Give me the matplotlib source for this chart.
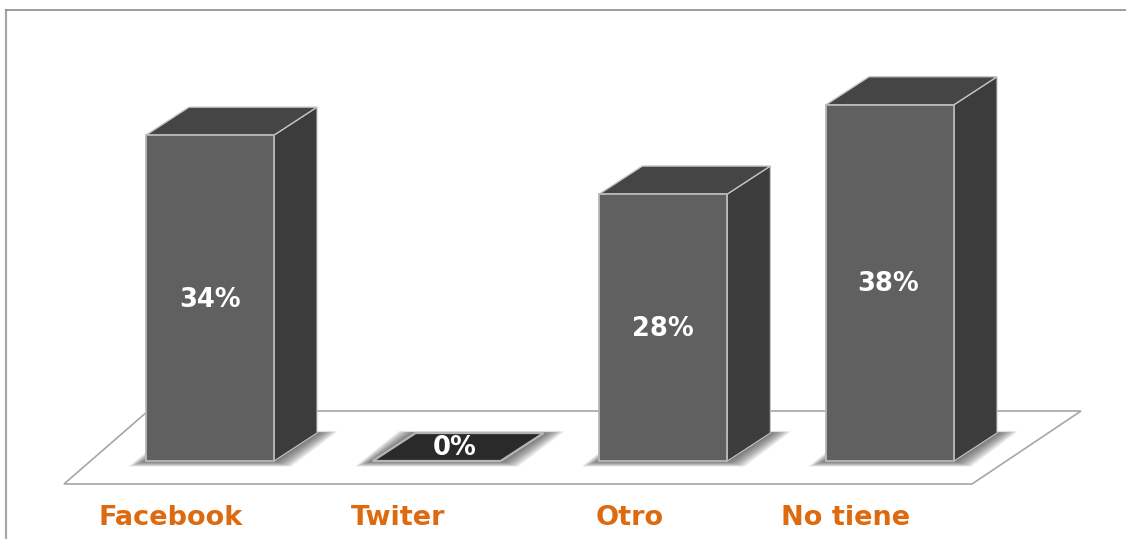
import matplotlib
matplotlib.use('Agg')
import matplotlib.pyplot as plt
from matplotlib.patches import Polygon

# Data
categories = ['Facebook', 'Twiter', 'Otro', 'No tiene']
heights = [34.3, 0, 28.1, 37.5]
value_labels = ['34%', '0%', '28%', '38%']

# Scale: pixels per bar step and per percent point
px_x = 226.67
px_y = 9.5
width = 128 / px_x
dx = 43 / px_x
dy = 28 / px_y

fig = plt.figure(figsize=(11.26, 5.39), dpi=100)
ax = fig.add_axes([0, 0, 1, 1])
ax.set_xlim(-210 / px_x, (1126 - 210) / px_x)
ax.set_ylim(-78 / px_y, 461 / px_y)
ax.axis('off')

# outer frame
frame_col = '#8c8c8c'
ax.plot([-204 / px_x, -204 / px_x], [-78 / px_y, 451 / px_y], color='#a8a8a8', lw=1.6)
ax.plot([-204 / px_x, 916 / px_x], [451 / px_y, 451 / px_y], color=frame_col, lw=1.2)

# floor
floor = [(-146 / px_x, -23 / px_y), (762 / px_x, -23 / px_y),
         (871 / px_x, 50 / px_y), (-62 / px_x, 50 / px_y)]
ax.add_patch(Polygon(floor, closed=True, fc='white', ec='#a6a6a6', lw=1.2, zorder=1))


def shadow(x, w):
    # soft shadow on the floor, built from stacked see-through shapes
    for g in range(16, 0, -1):
        s = g * 1.1 / px_x
        t = g * 0.35 / px_y
        pts = [(x - w / 2 - s, -t), (x + w / 2 + s, -t),
               (x + w / 2 + dx + s * 1.2, dy + t * 0.3),
               (x - w / 2 + dx - s, dy + t * 0.3)]
        ax.add_patch(Polygon(pts, closed=True, fc='#303030', ec='none', alpha=0.06, zorder=2))


for i, h in enumerate(heights):
    left = i - width / 2
    right = i + width / 2
    shadow(i, width)
    if h == 0:
        # flat bar is a single dark plate
        plate = [(left, 0), (right, 0), (right + dx, dy), (left + dx, dy)]
        ax.add_patch(Polygon(plate, closed=True, fc='#2a2a2a', ec='#b5b5b5', lw=1.6, zorder=3))
        continue
    side = [(right, 0), (right + dx, dy), (right + dx, h + dy), (right, h)]
    top = [(left, h), (right, h), (right + dx, h + dy), (left + dx, h + dy)]
    front = [(left, 0), (right, 0), (right, h), (left, h)]
    ax.add_patch(Polygon(side, closed=True, fc='#3c3c3c', ec='#c4c4c4', lw=0.8, zorder=3))
    ax.add_patch(Polygon(top, closed=True, fc='#454545', ec='#c4c4c4', lw=1.0, zorder=3))
    ax.add_patch(Polygon(front, closed=True, fc='#606060', ec='#b8b8b8', lw=1.3, zorder=4))

# value labels, placed a bit under the bar middle like the original
label_y = [16.9, 1.35, 13.9, 18.6]
label_x = [0, 0.08, 0, -0.01]
for i, txt in enumerate(value_labels):
    ax.text(i + label_x[i], label_y[i], txt, color='white', fontsize=18.5, fontweight='bold',
            ha='center', va='center', zorder=5)

# category labels are not centred on the bars in the original
cat_shift = [-0.172, -0.17, -0.15, -0.194]
for i, name in enumerate(categories):
    ax.text(i + cat_shift[i], -6.05, name, color='#de6a10', fontsize=19.5, fontweight='bold',
            ha='center', va='center', zorder=5)

fig.savefig('out.png', dpi=100)
